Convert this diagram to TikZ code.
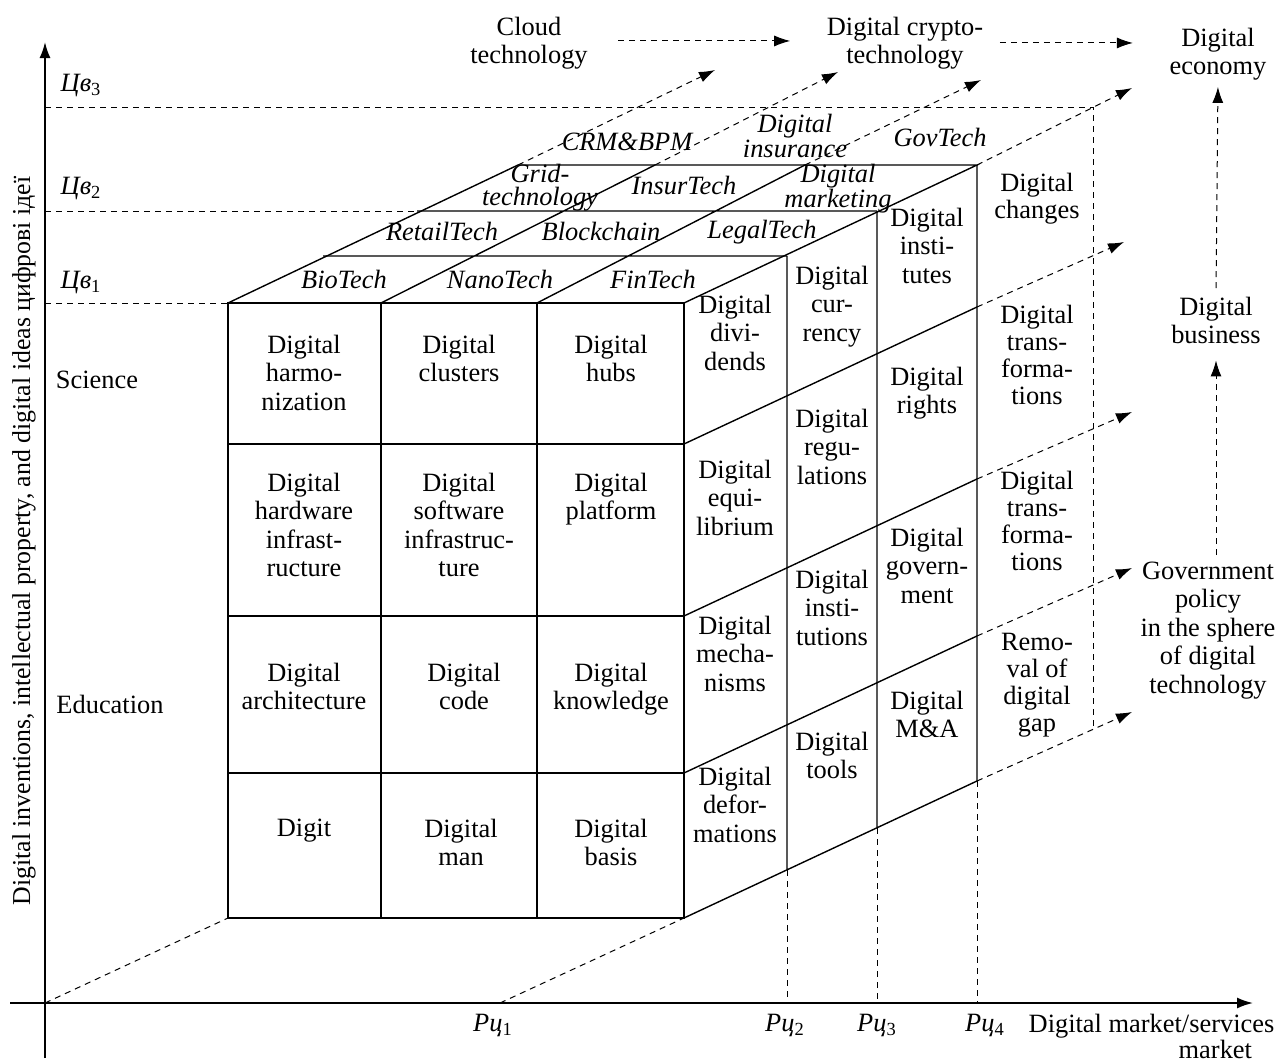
\documentclass[tikz,border=0pt]{standalone}
\usepackage{fontspec}
\setmainfont{Liberation Serif}
\usetikzlibrary{arrows.meta}
\begin{document}
\begin{tikzpicture}[x=0.5pt,y=-0.5pt,line width=0.7pt,
  txt/.style={align=center,anchor=north,yshift=9pt,inner sep=0pt,font=\fontsize{13.2}{14.25}\selectfont},
  side/.style={txt,font=\fontsize{13.2}{13.5}\selectfont},
  tech/.style={txt,font=\fontsize{13.2}{11.5}\selectfont\itshape},
  guide/.style={dash pattern=on 3pt off 2.5pt,line width=0.5pt},
  flow/.style={guide,-{Latex[length=8pt,width=5.5pt]}},
  axis/.style={line width=0.9pt,-{Latex[length=8pt,width=5.5pt]}}]
\useasboundingbox (0,0) rectangle (1276,1061);
\draw[axis] (10,1003) -- (1253,1003);
\draw[axis] (45,1058) -- (45,42);
\node[inner sep=0pt,font=\fontsize{12.9}{14.25}\selectfont,rotate=90] (ylab) at (24,541) {Digital inventions, intellectual property, and digital ideas цифрові ідеї};
% cube
\draw (228,303) rectangle (684,918);
\foreach \x in {381,537} \draw (\x,303) -- (\x,918);
\foreach \y in {444,616,773} \draw (228,\y) -- (684,\y);
\draw (228,303) -- (518,165) -- (977,165) -- (684,303);
\draw (381,303) -- (655,165) (537,303) -- (805,165) (323,256) -- (787,256) (417,211) -- (877,211);
\draw (977,165) -- (977,781) -- (684,918) (787,256) -- (787,870) (877,211) -- (877,828);
\foreach \y in {444,616,773} \draw (684,\y) -- ++(293,-137);
% levels and markets
\draw[guide] (45,1003) -- (228,918) (500,1003) -- (684,918);
\draw[guide] (787,870) -- (787,1003) (877,828) -- (877,1003) (977,781) -- (977,1003);
\draw[guide] (45,303) -- (228,303) (45,211) -- (417,211) (45,107) -- (1093,107) -- (1093,729);
\foreach \n/\y in {1/289,2/195,3/92}
  \node[txt,anchor=north west] (cv\n) at (60,\y) {\textit{Цв}\textsubscript{\n}};
\foreach \n/\x in {1/493,2/785,3/877,4/985}
  \node[txt] (rc\n) at (\x,1032) {\textit{Рц}\textsubscript{\n}};
\node[txt,anchor=north west,align=left,font=\fontsize{13.2}{10}\selectfont] (mkt) at (1028,1031) {Digital market/services\\\hspace*{75pt}market};
\node[txt] (sci) at (97,388) {Science};
\node[txt] (edu) at (110,712) {Education};
% front face
\foreach \x/\y/\t [count=\i] in {304/352/{Digital\\harmo-\\nization},459/352/{Digital\\clusters},611/352/{Digital\\hubs},
  304/490/{Digital\\hardware\\infrast-\\ructure},459/490/{Digital\\software\\infrastruc-\\ture},611/490/{Digital\\platform},
  304/680/{Digital\\architecture},464/680/{Digital\\code},611/680/{Digital\\knowledge},
  304/836/{Digit},461/836/{Digital\\man},611/836/{Digital\\basis}}
  \node[txt] (f\i) at (\x,\y) {\t};
% right face
\foreach \x/\y/\t [count=\i] in {735/312/{Digital\\divi-\\dends},735/477/{Digital\\equi-\\librium},735/633/{Digital\\mecha-\\nisms},735/784/{Digital\\defor-\\mations},
  832/283/{Digital\\cur-\\rency},832/426/{Digital\\regu-\\lations},832/587/{Digital\\insti-\\tutions},832/749/{Digital\\tools},
  927/225/{Digital\\insti-\\tutes},927/384/{Digital\\rights},927/545/{Digital\\govern-\\ment},927/708/{Digital\\M\&A}}
  \node[txt] (s\i) at (\x,\y) {\t};
\foreach \y/\t [count=\i] in {190/{Digital\\changes},322/{Digital\\trans-\\forma-\\tions},488/{Digital\\trans-\\forma-\\tions},651/{Remo-\\val of\\digital\\gap}}
  \node[side] (d\i) at (1037,\y) {\t};
% top face
\foreach \x/\y/\t [count=\i] in {344/287/BioTech,500/287/NanoTech,653/287/FinTech,442/239/RetailTech,601/239/Blockchain,762/237/LegalTech,
  540/181/{Grid-\\technology},684/193/InsurTech,838/181/{Digital\\marketing},627/150/{CRM\&BPM},795/131/{Digital\\insurance},940/145/GovTech}
  \node[tech] (t\i) at (\x,\y) {\t};
% outcomes
\node[txt] (cloud) at (529,34) {Cloud\\technology};
\node[txt] (crypto) at (905,34) {Digital crypto-\\technology};
\node[txt] (economy) at (1218,45) {Digital\\economy};
\node[txt] (business) at (1216,314) {Digital\\business};
\node[txt] (policy) at (1208,579) {Government\\policy\\in the sphere\\of digital\\technology};
\draw[flow,shorten <=15pt,shorten >=18pt] ([yshift=1pt]cloud.east) -- ([yshift=1pt]crypto.west);
\draw[flow,shorten <=8pt,shorten >=18pt] (crypto.east) -- (crypto.east -| economy.west);
\draw[flow,shorten <=3pt,shorten >=8pt] (business.south |- policy.north) -- (business.south);
\draw[flow,shorten <=4pt,shorten >=3pt] (business.north) -- (economy.south);
\foreach \a/\b [count=\i] in {518/165,655/165,805/165,977/165,977/307,977/479,977/636,977/781}
  \coordinate (o\i) at (\a,\b);
\foreach \a/\b [count=\i] in {715/70,838/72,981/80,1132/88,1124/242,1132/412,1132/568,1132/712}
  \coordinate (e\i) at (\a,\b);
\foreach \i in {1,...,8} \draw[flow] (o\i) -- (e\i);
\end{tikzpicture}
\end{document}
